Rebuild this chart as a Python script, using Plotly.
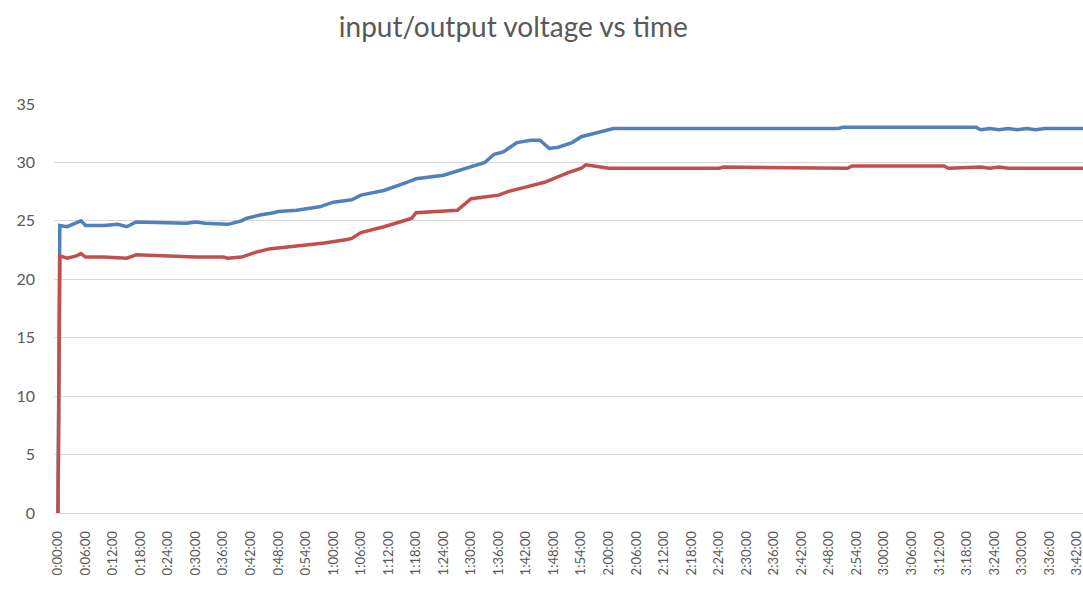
import plotly.graph_objects as go

# minutes since start
input_min = [0, 0.4, 2, 4, 5, 6, 10, 13, 15, 17, 28, 30, 32, 37, 40, 41, 44, 47, 48, 52,
             57, 60, 64, 66, 71, 76, 78, 84, 89, 93, 95, 97, 100, 103, 105, 106, 107,
             109, 112, 114, 117, 120, 121, 170, 171, 200, 201, 203, 205, 207, 209, 211,
             213, 215, 218, 224]
input_v = [0, 24.6, 24.5, 24.8, 25.0, 24.6, 24.6, 24.7, 24.5, 24.9, 24.8, 24.9, 24.8, 24.7,
           25.0, 25.2, 25.5, 25.7, 25.8, 25.9, 26.2, 26.6, 26.8, 27.2, 27.6, 28.3, 28.6,
           28.9, 29.5, 30.0, 30.7, 30.9, 31.7, 31.9, 31.9, 31.5, 31.2, 31.3, 31.7, 32.2,
           32.5, 32.8, 32.9, 32.9, 33.0, 33.0, 32.8, 32.9, 32.8, 32.9, 32.8, 32.9, 32.8,
           32.9, 32.9, 32.9]

output_min = [0, 0.4, 2, 4, 5, 6, 10, 13, 15, 17, 30, 36, 37, 40, 43, 46, 51, 58, 63, 64,
              66, 71, 77, 78, 87, 90, 96, 98, 101, 106, 111, 114, 115, 117, 120, 144, 145,
              172, 173, 193, 194, 201, 203, 205, 207, 224]
output_v = [0, 22.0, 21.8, 22.0, 22.2, 21.9, 21.9, 21.8, 21.8, 22.1, 21.9, 21.9, 21.8, 21.9,
            22.3, 22.6, 22.8, 23.1, 23.4, 23.5, 24.0, 24.5, 25.2, 25.7, 25.9, 26.9, 27.2,
            27.5, 27.8, 28.3, 29.1, 29.5, 29.8, 29.7, 29.5, 29.5, 29.6, 29.5, 29.7, 29.7,
            29.5, 29.6, 29.5, 29.6, 29.5, 29.5]

tick_minutes = list(range(0, 223, 6))
tick_labels = ["0:00:00", "0:06:00", "0:12:00", "0:18:00", "0:24:00", "0:30:00", "0:36:00",
               "0:42:00", "0:48:00", "0:54:00", "1:00:00", "1:06:00", "1:12:00", "1:18:00",
               "1:24:00", "1:30:00", "1:36:00", "1:42:00", "1:48:00", "1:54:00", "2:00:00",
               "2:06:00", "2:12:00", "2:18:00", "2:24:00", "2:30:00", "2:36:00", "2:42:00",
               "2:48:00", "2:54:00", "3:00:00", "3:06:00", "3:12:00", "3:18:00", "3:24:00",
               "3:30:00", "3:36:00", "3:42:00"]

grey = "#595959"

fig = go.Figure()
fig.add_trace(go.Scatter(x=input_min, y=input_v, mode="lines", name="input",
                         line=dict(color="#4f81bd", width=3.5)))
fig.add_trace(go.Scatter(x=output_min, y=output_v, mode="lines", name="output",
                         line=dict(color="#c0504d", width=3.5)))

fig.update_layout(
    width=1083, height=595,
    paper_bgcolor="white", plot_bgcolor="white",
    showlegend=False,
    margin=dict(l=54, r=0, t=104, b=82, autoexpand=False),
    font=dict(family="Lato", color=grey),
    title=dict(text="input/output voltage vs time", x=0.474, xanchor="center",
               y=0.955, yanchor="middle", font=dict(size=28, color=grey)),
)
fig.update_xaxes(
    range=[-0.87, 223.3], automargin=False,
    tickmode="array", tickvals=tick_minutes, ticktext=tick_labels,
    tickangle=-90, tickfont=dict(size=13, color=grey),
    ticklabeloverflow="allow",
    showgrid=False, zeroline=False,
    showline=True, linecolor="#d9d9d9", linewidth=1,
    ticklabelstandoff=12,
)
fig.update_yaxes(
    range=[0, 35], dtick=5, automargin=False,
    tickfont=dict(size=16, color=grey),
    showgrid=True, gridcolor="#d9d9d9", gridwidth=1,
    zeroline=False, ticklabelstandoff=18,
)

# page body has an 8px default margin; drop it so the figure fills the window
fig.write_html("out.html", config={"displayModeBar": False},
               post_script="document.body.style.margin='0';")
